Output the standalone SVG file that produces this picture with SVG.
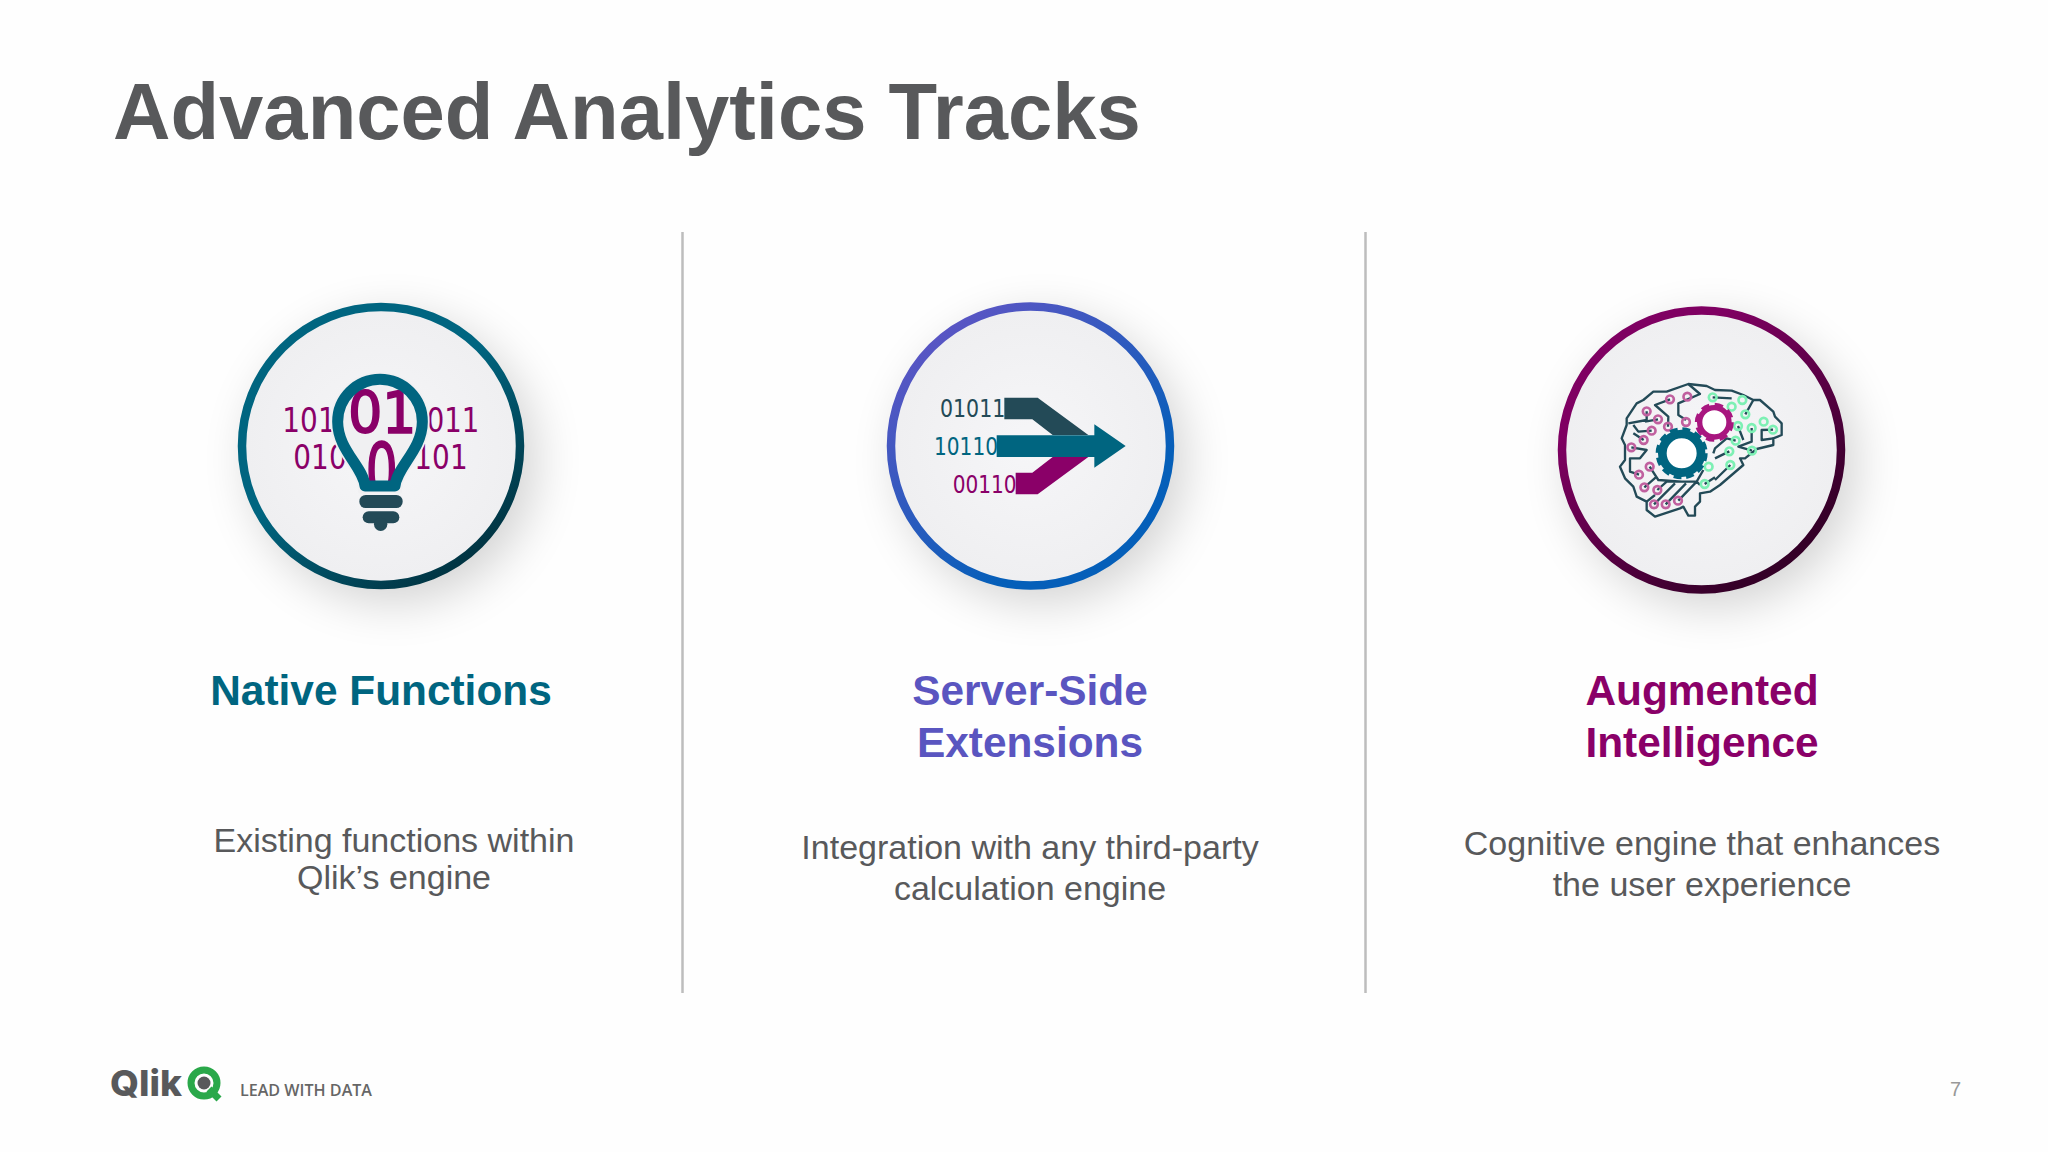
<svg xmlns="http://www.w3.org/2000/svg" width="2048" height="1152" viewBox="0 0 2048 1152">
<style>
.s{font-family:"Liberation Sans",Arial,sans-serif}
.h{font-size:42.400px;font-weight:700;text-anchor:middle}
.b{font-size:34px;fill:#58595b;text-anchor:middle}
.m{font-family:"DejaVu Sans",sans-serif}
.div{stroke:#bdbdbd;stroke-width:2.500}
.pk{fill:none;stroke:#c0609f;stroke-width:8}
.gn{fill:none;stroke:#7df0b4;stroke-width:8}
.br{fill:none;stroke:#234a57;stroke-width:7;stroke-linejoin:round}
</style>
<defs>
<radialGradient id="face" cx="50%" cy="50%" r="55%"><stop offset="0" stop-color="#f6f6f8"/><stop offset="1" stop-color="#eeeef0"/></radialGradient>
<linearGradient id="r1" x1="0.2" y1="0.1" x2="0.85" y2="0.95"><stop offset="0.4" stop-color="#006580"/><stop offset="1" stop-color="#01303d"/></linearGradient>
<linearGradient id="r2" x1="0.15" y1="0.1" x2="0.8" y2="0.95"><stop offset="0" stop-color="#5a55c4"/><stop offset="0.8" stop-color="#055fb9"/></linearGradient>
<linearGradient id="r3" x1="0.2" y1="0.1" x2="0.85" y2="0.95"><stop offset="0.15" stop-color="#7f0062"/><stop offset="0.9" stop-color="#350028"/></linearGradient>
<filter id="sh" x="-50%" y="-50%" width="200%" height="200%"><feGaussianBlur stdDeviation="24"/></filter>
<clipPath id="bulbIn"><path d="M435,618C430,560 353,510 353,425A127,127 0 0 1 607,425C607,510 530,560 525,618Z"/></clipPath>
</defs>
<rect width="2048" height="1152" fill="#fefefe"/>
<text class="s" x="113" y="139" font-size="79.600" font-weight="700" fill="#58595b">Advanced Analytics Tracks</text>
<g id="dividers"><line class="div" x1="682.500" y1="232" x2="682.500" y2="993"/><line class="div" x1="1365.500" y1="232" x2="1365.500" y2="993"/></g>

<g id="native-functions">
<circle cx="393" cy="460" r="143" fill="#000" opacity=".17" filter="url(#sh)"/>
<circle cx="381" cy="446" r="139" fill="url(#face)" stroke="url(#r1)" stroke-width="8.500"/>
<g transform="translate(220 280) scale(.33333)">
<g class="m" font-size="100" fill="#8a0068">
<text x="187" y="456" textLength="160" lengthAdjust="spacingAndGlyphs">101</text>
<text x="620" y="456" textLength="158" lengthAdjust="spacingAndGlyphs">011</text>
<text x="220" y="568" textLength="160" lengthAdjust="spacingAndGlyphs">010</text>
<text x="583" y="568" textLength="160" lengthAdjust="spacingAndGlyphs">101</text>
</g>
<path d="M435,618C430,560 353,510 353,425A127,127 0 0 1 607,425C607,510 530,560 525,618Z" fill="#f0f0f2" stroke="#f0f0f2" stroke-width="44"/>
<g clip-path="url(#bulbIn)" class="m" fill="#8a0068" stroke="#8a0068" stroke-width="6">
<text x="385" y="458" font-size="170" textLength="204" lengthAdjust="spacingAndGlyphs">01</text>
<text x="437" y="652" font-size="225" textLength="96" lengthAdjust="spacingAndGlyphs">0</text>
</g>
<path d="M435,618C430,560 353,510 353,425A127,127 0 0 1 607,425C607,510 530,560 525,618Z" fill="none" stroke="#006580" stroke-width="33" stroke-linejoin="round"/>
<rect x="418" y="645" width="130" height="39" rx="19" fill="#234a57"/>
<rect x="428" y="694" width="110" height="36" rx="18" fill="#234a57"/>
<circle cx="482" cy="733" r="20" fill="#234a57"/>
</g>
<text class="s h" x="381" y="705" fill="#006580">Native Functions</text>
<text class="s b" x="394" y="852">Existing functions within</text>
<text class="s b" x="394" y="889">Qlik’s engine</text>
</g>

<g id="server-side-extensions">
<circle cx="1042" cy="460" r="143" fill="#000" opacity=".17" filter="url(#sh)"/>
<circle cx="1030.500" cy="446" r="139.500" fill="url(#face)" stroke="url(#r2)" stroke-width="8.500"/>
<g transform="translate(870 280) scale(.33333)">
<g class="m" font-size="76">
<text x="210" y="412" fill="#234a57" textLength="196" lengthAdjust="spacingAndGlyphs">01011</text>
<text x="192" y="524" fill="#006580" textLength="192" lengthAdjust="spacingAndGlyphs">10110</text>
<text x="248" y="638" fill="#8a0068" textLength="192" lengthAdjust="spacingAndGlyphs">00110</text>
</g>
<path d="M403,353H503L655,465H548L487,418H403Z" fill="#234a57"/>
<path d="M437,643H503L655,531H548L487,578H437Z" fill="#8a0068"/>
<path d="M380,466H673V433L767,498L673,563V531H380Z" fill="#006580"/>
</g>
<text class="s h" fill="#5a55c0"><tspan x="1030" y="705">Server-Side</tspan><tspan x="1030" y="757">Extensions</tspan></text>
<text class="s b" x="1030" y="859">Integration with any third-party</text>
<text class="s b" x="1030" y="900">calculation engine</text>
</g>

<g id="augmented-intelligence">
<circle cx="1713" cy="464" r="143" fill="#000" opacity=".17" filter="url(#sh)"/>
<circle cx="1701.500" cy="450" r="139.500" fill="url(#face)" stroke="url(#r3)" stroke-width="8.500"/>
<g transform="translate(1600 370) scale(.33333)">
<g class="br">
<path d="M265,42L320,48L345,60L395,62L430,75L460,90L480,90L520,125L525,140L545,160L545,195L520,205L520,225L470,237L435,265L420,265L430,285L395,315L360,345L330,365L300,370L300,395L285,410L285,437L265,437L250,410L240,415L165,440L140,420L140,395L110,380L100,350L75,325L60,290L75,270L75,225L65,205L80,165L80,145L110,100L130,90L160,65L200,65Z"/>
<path d="M265,42L300,72L235,100L235,135L258,150M210,88L165,105L205,140L204,170M140,124L140,150L85,160M174,148L135,155M155,182L115,185L100,165M131,210L100,190M94,232L140,240L120,265L90,265L90,305L117,314M149,290L175,330L245,335M133,352L170,320M172,360L200,335H290L235,392M162,403L225,340M197,403L258,340M140,395L165,375M300,345L290,335L310,300M340,250L345,235L380,205L407,212M345,265L388,244M345,330L391,285M314,342L345,322M338,82L395,85M436,133L460,90M455,174L455,215L415,230L456,242M519,179L485,180L485,210L520,205M414,168L430,210"/>
</g>
<circle class="pk" cx="262" cy="80" r="11.500"/><circle class="pk" cx="210" cy="88" r="11.500"/><circle class="pk" cx="140" cy="124" r="11.500"/><circle class="pk" cx="174" cy="148" r="11.500"/><circle class="pk" cx="204" cy="170" r="11.500"/><circle class="pk" cx="155" cy="182" r="11.500"/><circle class="pk" cx="131" cy="210" r="11.500"/><circle class="pk" cx="94" cy="232" r="11.500"/><circle class="pk" cx="258" cy="156" r="11.500"/><circle class="pk" cx="149" cy="290" r="11.500"/><circle class="pk" cx="117" cy="314" r="11.500"/><circle class="pk" cx="133" cy="352" r="11.500"/><circle class="pk" cx="172" cy="360" r="11.500"/><circle class="pk" cx="162" cy="403" r="11.500"/><circle class="pk" cx="197" cy="403" r="11.500"/><circle class="pk" cx="234" cy="392" r="11.500"/>
<circle class="gn" cx="338" cy="82" r="11.500"/><circle class="gn" cx="395" cy="110" r="11.500"/><circle class="gn" cx="427" cy="90" r="11.500"/><circle class="gn" cx="436" cy="133" r="11.500"/><circle class="gn" cx="491" cy="155" r="11.500"/><circle class="gn" cx="519" cy="179" r="11.500"/><circle class="gn" cx="455" cy="174" r="11.500"/><circle class="gn" cx="414" cy="168" r="11.500"/><circle class="gn" cx="407" cy="212" r="11.500"/><circle class="gn" cx="388" cy="244" r="11.500"/><circle class="gn" cx="456" cy="242" r="11.500"/><circle class="gn" cx="391" cy="285" r="11.500"/><circle class="gn" cx="326" cy="290" r="11.500"/><circle class="gn" cx="314" cy="342" r="11.500"/>
<circle cx="245" cy="250" r="58" fill="#fff" stroke="#006580" stroke-width="26"/>
<circle cx="245" cy="250" r="68" fill="none" stroke="#006580" stroke-width="20" stroke-dasharray="22 13.600"/>
<circle cx="343" cy="157" r="44" fill="#fff" stroke="#a8167f" stroke-width="16"/>
<circle cx="343" cy="157" r="51" fill="none" stroke="#a8167f" stroke-width="15" stroke-dasharray="24 16"/>
</g>
<text class="s h" fill="#8a0068"><tspan x="1702" y="705">Augmented</tspan><tspan x="1702" y="757">Intelligence</tspan></text>
<text class="s b" x="1702" y="855">Cognitive engine that enhances</text>
<text class="s b" x="1702" y="896">the user experience</text>
</g>

<g id="footer">
<text x="110" y="1096" font-family="Inter,sans-serif" font-size="36" font-weight="800" fill="#58595b" textLength="72" lengthAdjust="spacingAndGlyphs">Qlik</text>
<circle cx="204" cy="1083" r="13" fill="none" stroke="#2aa84a" stroke-width="7"/>
<circle cx="204" cy="1083" r="6.500" fill="#58595b"/>
<path d="M209,1089L219,1099" stroke="#2aa84a" stroke-width="7"/>
<text x="240" y="1096" font-family="Open Sans,sans-serif" font-size="17" font-weight="600" fill="#666" textLength="132" lengthAdjust="spacingAndGlyphs">LEAD WITH DATA</text>
<text class="s" x="1950" y="1096" font-size="20" fill="#999">7</text>
</g>
</svg>
